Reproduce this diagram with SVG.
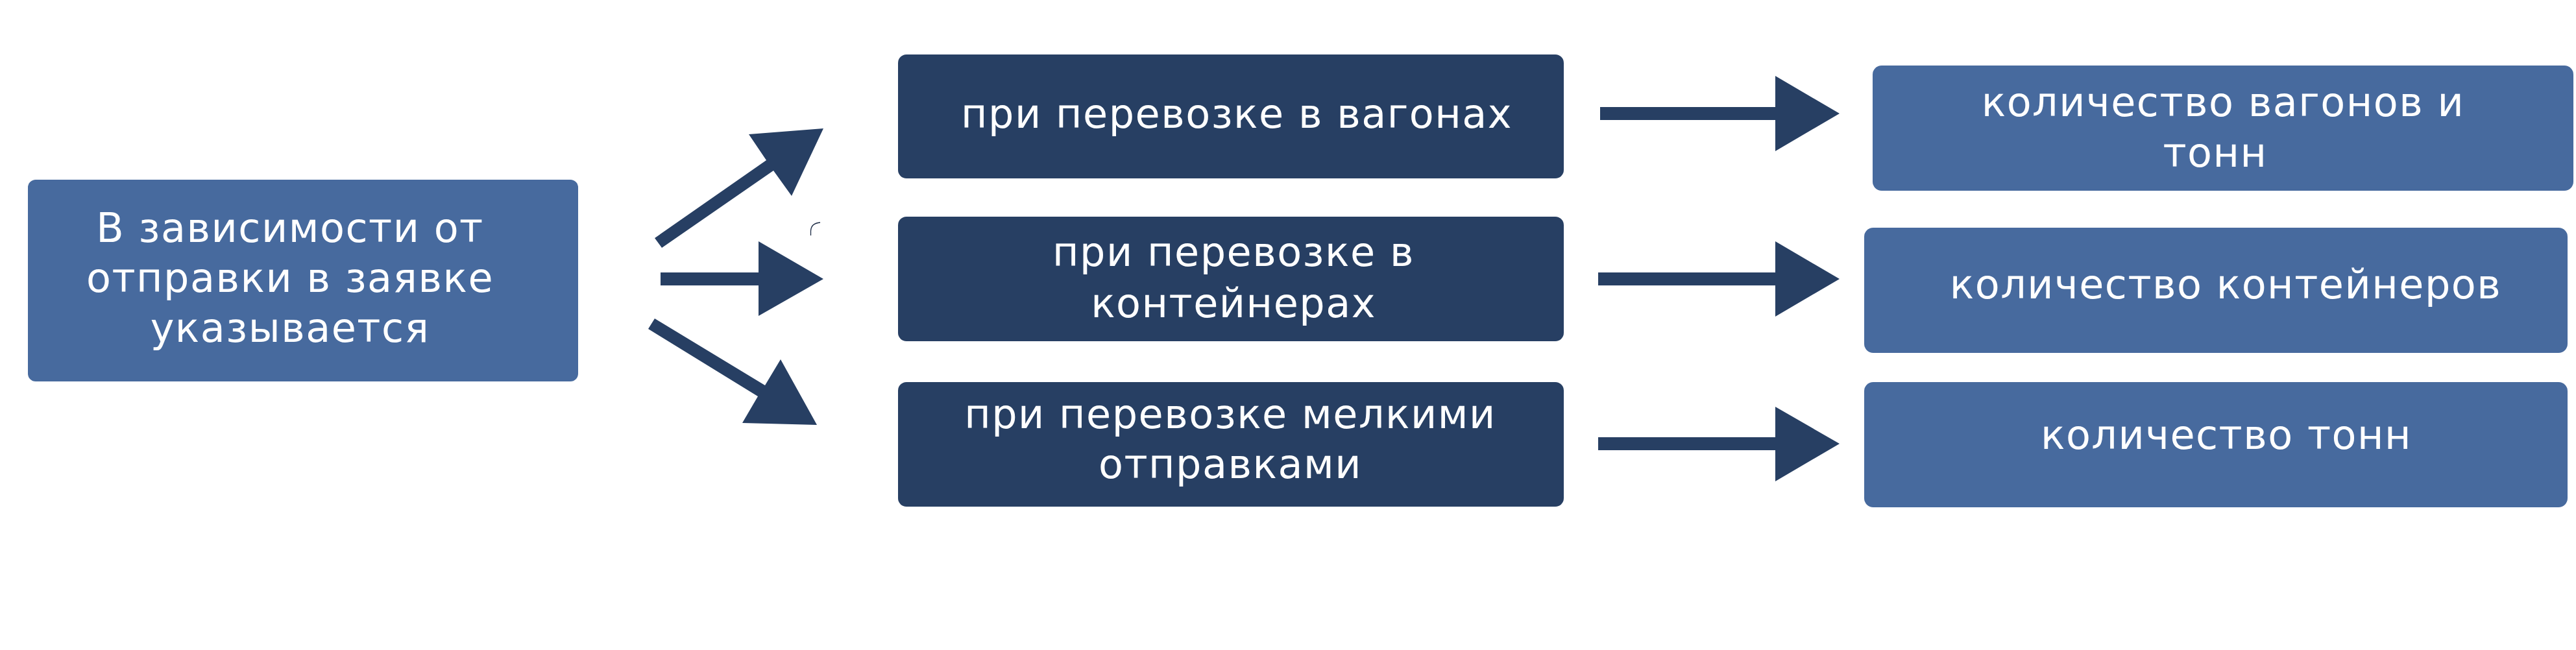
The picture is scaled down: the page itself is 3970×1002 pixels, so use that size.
<svg xmlns="http://www.w3.org/2000/svg" width="3970" height="1002" viewBox="0 0 3970 1002">
<style>
.light{fill:#476A9E}
.dark{fill:#273F63}
.arrow{fill:#273F63}
text{font-family:"DejaVu Sans","Open Sans",sans-serif;font-size:62px;fill:#FFFFFF;text-anchor:middle;letter-spacing:1.5px}
</style>
<rect width="3970" height="1002" fill="#FFFFFF"/>
<g id="source">
<rect class="light" x="43" y="277" width="848" height="311" rx="12"/>
<text x="447" y="373">В зависимости от<tspan x="447" y="450">отправки в заявке</tspan><tspan x="447" y="527">указывается</tspan></text>
</g>
<g id="mid1">
<rect class="dark" x="1384" y="84" width="1026" height="191" rx="13"/>
<text x="1906" y="197">при перевозке в вагонах</text>
</g>
<g id="mid2">
<rect class="dark" x="1384" y="334" width="1026" height="192" rx="13"/>
<text x="1901" y="410">при перевозке в<tspan x="1901" y="489">контейнерах</tspan></text>
</g>
<g id="mid3">
<rect class="dark" x="1384" y="589" width="1026" height="192" rx="13"/>
<text x="1896" y="660">при перевозке мелкими<tspan x="1896" y="737">отправками</tspan></text>
</g>
<g id="res1">
<rect class="light" x="2886" y="101" width="1080" height="193" rx="14"/>
<text x="3426" y="179">количество вагонов и<tspan x="3414" y="257">тонн</tspan></text>
</g>
<g id="res2">
<rect class="light" x="2873" y="351" width="1084" height="193" rx="14"/>
<text x="3430" y="460">количество контейнеров</text>
</g>
<g id="res3">
<rect class="light" x="2873" y="589" width="1084" height="193" rx="14"/>
<text x="3431" y="692">количество тонн</text>
</g>
<g id="connectors">
<polygon class="arrow" points="1009,367 1181,247 1154,207 1269,198 1220,302 1192,263 1020,382"/>
<polygon class="arrow" points="1018,420 1169,420 1169,372 1269,430 1169,487 1169,440 1018,440"/>
<polygon class="arrow" points="1009,491 1179,594 1203,554 1259,655 1144,652 1168,611 999,507"/>
<polygon class="arrow" points="2466,165 2736,165 2736,117 2835,175 2736,233 2736,185 2466,185"/>
<polygon class="arrow" points="2463,420 2736,420 2736,372 2835,430 2736,488 2736,440 2463,440"/>
<polygon class="arrow" points="2463,674 2736,674 2736,627 2835,684 2736,742 2736,694 2463,694"/>
<path d="M1249.5,363 V356 Q1250,344 1264,343" fill="none" stroke="#1B2A44" stroke-width="1.3"/>
</g>
</svg>
